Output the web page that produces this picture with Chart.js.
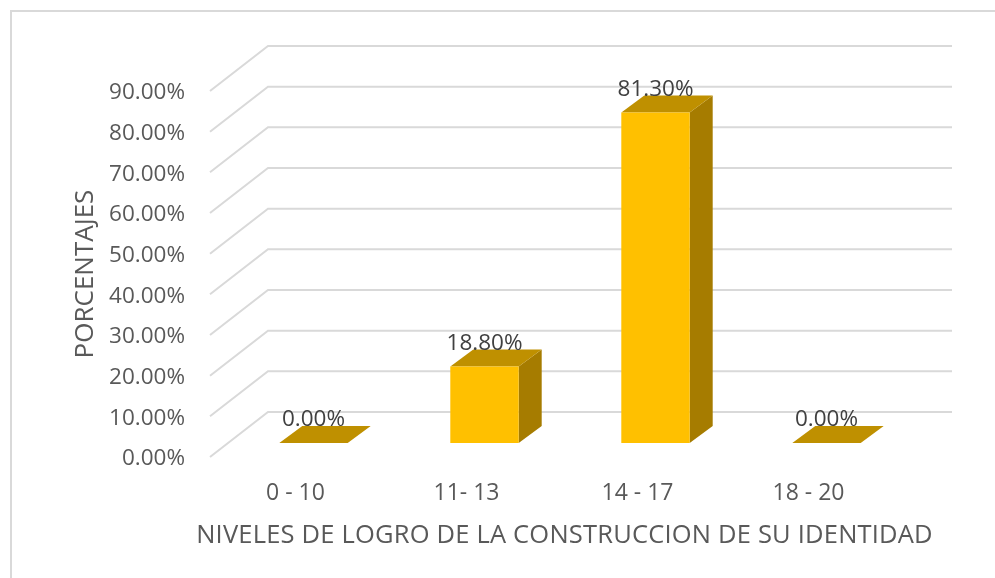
<!DOCTYPE html>
<html>
<head>
<meta charset="utf-8">
<style>
body { margin: 0; background: #fff; }
</style>
<script src="https://cdn.jsdelivr.net/npm/chart.js@4"></script>
</head>
<body>
<canvas id="mycanvas" width="995" height="578"></canvas>
<script>
var categories = ["0 - 10", "11- 13", "14 - 17", "18 - 20"];
var porcentajes = [0, 18.8, 81.3, 0];
var yTicks = [0, 10, 20, 30, 40, 50, 60, 70, 80, 90];
var xTitle = "NIVELES DE LOGRO DE LA CONSTRUCCION DE SU IDENTIDAD";
var yTitle = "PORCENTAJES";

var fontName = "'Open Sans', sans-serif";

// depth of the fake 3d box
var wallX = 58, wallY = -45;
var barOffX = 18, barOffY = -14;
var barDepthX = 23, barDepthY = -17;

var box3d = {
	id: "box3d",
	beforeDraw: function(chart) {
		var ctx = chart.ctx;
		ctx.save();
		ctx.strokeStyle = "#d9d9d9";
		ctx.lineWidth = 2;
		ctx.beginPath();
		ctx.moveTo(11, 578);
		ctx.lineTo(11, 11);
		ctx.lineTo(995, 11);
		ctx.stroke();
		ctx.restore();
	},
	beforeDatasetsDraw: function(chart) {
		var ctx = chart.ctx;
		var y = chart.scales.y;
		var left = chart.chartArea.left, right = chart.chartArea.right;
		ctx.save();
		ctx.strokeStyle = "#d9d9d9";
		ctx.lineWidth = 2;
		for (var i in yTicks) {
			var py = y.getPixelForValue(yTicks[i]);
			ctx.beginPath();
			ctx.moveTo(left, py);
			ctx.lineTo(left + wallX, py + wallY);
			ctx.lineTo(right + wallX, py + wallY);
			ctx.stroke();
		}
		ctx.restore();

		// side and top faces
		var bars = chart.getDatasetMeta(0).data;
		for (var j = 0; j < bars.length; j++) {
			var b = bars[j];
			var x1 = b.x - b.width / 2 + barOffX;
			var x2 = b.x + b.width / 2 + barOffX;
			var top = b.y + barOffY;
			var bottom = b.base + barOffY;
			ctx.fillStyle = "#a67c00";
			ctx.beginPath();
			ctx.moveTo(x2, top);
			ctx.lineTo(x2 + barDepthX, top + barDepthY);
			ctx.lineTo(x2 + barDepthX, bottom + barDepthY);
			ctx.lineTo(x2, bottom);
			ctx.closePath();
			ctx.fill();
			ctx.fillStyle = "#bf9000";
			ctx.beginPath();
			ctx.moveTo(x1, top);
			ctx.lineTo(x1 + barDepthX, top + barDepthY);
			ctx.lineTo(x2 + barDepthX, top + barDepthY);
			ctx.lineTo(x2, top);
			ctx.closePath();
			ctx.fill();
		}
		// front faces get drawn by chart.js, just moved onto the bar plane
		ctx.save();
		ctx.translate(barOffX, barOffY);
	},
	afterDatasetsDraw: function(chart) {
		var ctx = chart.ctx;
		ctx.restore();
		var bars = chart.getDatasetMeta(0).data;
		ctx.save();
		ctx.fillStyle = "#404040";
		ctx.font = "22.5px " + fontName;
		ctx.textAlign = "center";
		ctx.textBaseline = "middle";
		for (var i = 0; i < bars.length; i++) {
			ctx.fillText(porcentajes[i].toFixed(2) + "%", bars[i].x + barOffX, bars[i].y + barOffY - 23);
		}
		// x title sits off centre in the original, the axis title option can't do that
		ctx.fillStyle = "#595959";
		ctx.font = "25.5px " + fontName;
		ctx.letterSpacing = "0.2px";
		ctx.fillText(xTitle, 564.5, 536);
		ctx.restore();
	}
};

var chartdata = {
	labels: categories,
	datasets: [
		{
			label: yTitle,
			backgroundColor: "#ffc000",
			borderWidth: 0,
			categoryPercentage: 1,
			barPercentage: 0.4,
			data: porcentajes
		}
	]
};

var ctx = document.getElementById("mycanvas");

var BarGraph = new Chart(ctx, {
	type: "bar",
	data: chartdata,
	plugins: [box3d],
	options: {
		responsive: false,
		animation: false,
		layout: { padding: { left: 0, top: 91, right: 101, bottom: 0 } },
		plugins: {
			legend: { display: false },
			tooltip: { enabled: false }
		},
		scales: {
			x: {
				grid: { display: false, drawTicks: false },
				border: { display: false },
				afterFit: function(scale) { scale.height = 121; },
				ticks: {
					color: "#595959",
					padding: 23,
					maxRotation: 0,
					font: { family: fontName, size: 23 }
				}
			},
			y: {
				min: 0,
				max: 90,
				grid: { display: false, drawTicks: false },
				border: { display: false },
				afterFit: function(scale) { scale.width = 210; },
				ticks: {
					color: "#595959",
					padding: 25,
					stepSize: 10,
					labelOffset: 2,
					font: { family: fontName, size: 22.5 },
					callback: function(value) { return value.toFixed(2) + "%"; }
				},
				title: {
					display: true,
					text: yTitle,
					color: "#595959",
					padding: { top: 70, bottom: 0 },
					font: { family: fontName, size: 26, weight: "normal" }
				}
			}
		}
	}
});
</script>
</body>
</html>
